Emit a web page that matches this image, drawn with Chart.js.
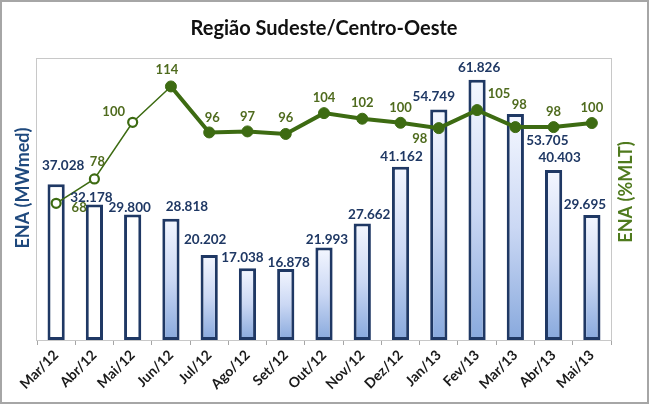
<!DOCTYPE html>
<html><head><meta charset="utf-8">
<script src="https://cdn.jsdelivr.net/npm/chart.js@4.4.1/dist/chart.umd.min.js"></script>
<style>html,body{margin:0;padding:0;background:#fff;}#wrap{width:649px;height:404px;}</style>
</head><body><div id="wrap"><canvas id="c" width="649" height="404"></canvas></div>
<script>
// ---- data ----
const categories = ['Mar/12','Abr/12','Mai/12','Jun/12','Jul/12','Ago/12','Set/12','Out/12','Nov/12','Dez/12','Jan/13','Fev/13','Mar/13','Abr/13','Mai/13'];
const enaMWmed = [37.028, 32.178, 29.800, 28.818, 20.202, 17.038, 16.878, 21.993, 27.662, 41.162, 54.749, 61.826, 53.705, 40.403, 29.695];
const enaMLT = [68.3, 77.9, 100.2, 114.3, 96.2, 96.6, 95.6, 103.8, 101.6, 100.0, 97.9, 105.0, 98.3, 98.3, 99.9];
const hollowCount = 3; // first months drawn hollow

// ---- label placement (pixels relative to mark) ----
const barLabelOffsets = [[7,-19],[-3,-7],[-3,-7],[16,-12],[-4,-15],[-5,-11],[3,-6],[3,-8],[7,-9],[1,-10],[-5,-13],[2,-12],[32,27],[6,-12],[-7,-10]];
const lineLabelOffsets = [[23,4],[3,-17],[-19,-10],[-4,-17],[3,-15],[0,-15],[0,-16],[0,-15],[0,-16],[0,-15],[-19,11],[22,-16],[4,-22],[0,-15],[0,-15]];

const NAVY = '#1F3864';
const GREEN = '#3D6B12';
const GREEN_TXT = '#4F6B1E';
const FONT = 'Lato, "Liberation Sans", sans-serif';

const labelPlugin = {
  id: 'labels',
  afterDatasetsDraw(chart) {
    const c = chart.ctx;
    c.save();
    c.textAlign = 'center';
    c.textBaseline = 'middle';
    c.font = 'bold 13.5px ' + FONT;
    c.fillStyle = NAVY;
    chart.getDatasetMeta(0).data.forEach((el, i) => {
      const o = barLabelOffsets[i];
      c.fillText(enaMWmed[i].toFixed(3), el.x + o[0], el.y + o[1]);
    });
    c.fillStyle = GREEN_TXT;
    c.font = 'bold 13px ' + FONT;
    chart.getDatasetMeta(1).data.forEach((el, i) => {
      const o = lineLabelOffsets[i];
      c.fillText(String(Math.round(enaMLT[i])), el.x + o[0], el.y + o[1]);
    });
    c.restore();
  }
};

const framePlugin = {
  id: 'frame',
  beforeDatasetsDraw(chart) {
    const a = chart.chartArea, c = chart.ctx;
    c.save();
    c.strokeStyle = '#C8C8C8';
    c.lineWidth = 1;
    c.strokeRect(Math.round(a.left) - 0.5, Math.round(a.top) + 0.5, Math.round(a.right - a.left) + 1, Math.round(a.bottom - a.top));
    c.restore();
  },
  afterDraw(chart) {
    const c = chart.ctx;
    c.save();
    c.strokeStyle = '#A6A6A6';
    c.lineWidth = 2;
    c.strokeRect(1, 1, chart.width - 2, chart.height - 2);
    c.font = 'bold 18px ' + FONT;
    c.textAlign = 'center';
    c.textBaseline = 'middle';
    c.fillStyle = '#1F497D';
    c.translate(23, 188);
    c.rotate(-Math.PI / 2);
    c.fillText('ENA (MWmed)', 0, 0);
    c.restore();
    c.save();
    c.font = 'bold 18px ' + FONT;
    c.textAlign = 'center';
    c.textBaseline = 'middle';
    c.fillStyle = '#4F7A1E';
    c.translate(626, 192);
    c.rotate(-Math.PI / 2);
    c.fillText('ENA (%MLT)', 0, 0);
    c.restore();
  }
};

function barFill(ctx) {
  if (ctx.type !== 'data') return '#fff';
  if (ctx.dataIndex < hollowCount) return '#FFFFFF';
  const chart = ctx.chart;
  if (!chart.chartArea) return '#C9D7F2';
  const ys = chart.scales.y;
  const top = ys.getPixelForValue(ctx.raw);
  const bot = ys.getPixelForValue(0);
  const g = chart.ctx.createLinearGradient(0, top, 0, bot);
  g.addColorStop(0, '#F4F7FF');
  g.addColorStop(0.5, '#CBD8F4');
  g.addColorStop(1, '#88A9DD');
  return g;
}

new Chart(document.getElementById('c'), {
  data: {
    labels: categories,
    datasets: [
      {
        type: 'bar', label: 'ENA (MWmed)', data: enaMWmed, yAxisID: 'y', order: 2,
        backgroundColor: barFill, borderColor: NAVY, borderWidth: 3, borderSkipped: false,
        categoryPercentage: 1, barPercentage: 0.45
      },
      {
        type: 'line', label: 'ENA (%MLT)', data: enaMLT, yAxisID: 'y1', order: 1,
        borderColor: GREEN, borderWidth: 4, tension: 0,
        segment: { borderWidth: c => c.p0DataIndex < hollowCount ? 1.5 : 4 },
        pointRadius: c => c.dataIndex < hollowCount ? 4.5 : 5.5,
        pointBorderWidth: c => c.dataIndex < hollowCount ? 2.2 : 1,
        pointBackgroundColor: c => c.dataIndex < hollowCount ? '#FFFFFF' : GREEN,
        pointBorderColor: GREEN
      }
    ]
  },
  options: {
    responsive: false, animation: false, devicePixelRatio: 1,
    layout: { padding: { left: 37, right: 38, top: 0, bottom: 0 } },
    plugins: {
      legend: { display: false }, tooltip: { enabled: false },
      title: { display: true, text: 'Região Sudeste/Centro-Oeste', color: '#111',
        font: { family: FONT, size: 20, weight: 'bold', lineHeight: 1.2 }, padding: { top: 17, bottom: 17 } }
    },
    scales: {
      x: {
        offset: true,
        grid: { offset: true, drawOnChartArea: false, tickLength: 5, color: '#A6A6A6' },
        border: { color: '#A6A6A6' },
        ticks: { minRotation: 45, maxRotation: 45, padding: 2, color: '#1A1A1A', font: { family: FONT, size: 14, weight: 'bold' } },
        afterFit: s => { s.height = 64; }
      },
      y: { display: false, min: 0, max: 67 },
      y1: { display: false, position: 'right', min: 14.5, max: 125.5 }
    }
  },
  plugins: [labelPlugin, framePlugin]
});
</script></body></html>
